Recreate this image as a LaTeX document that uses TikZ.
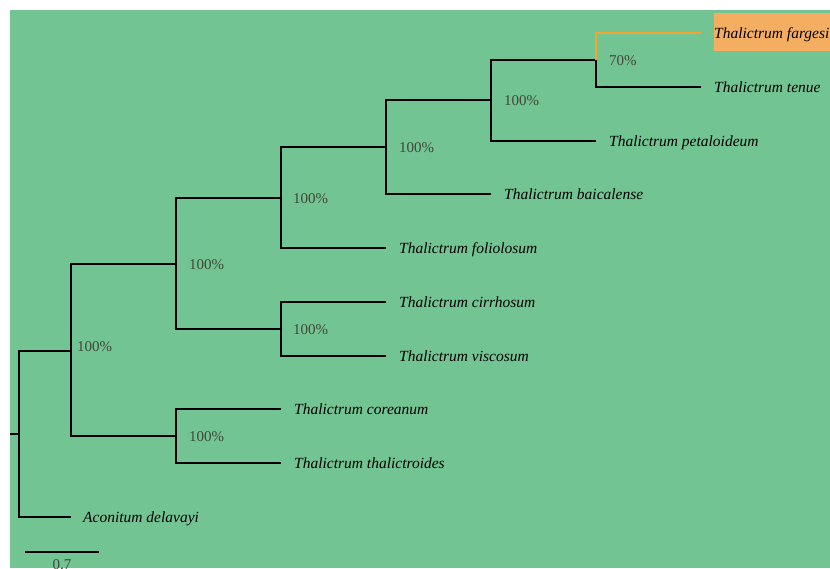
\documentclass[tikz,border=0pt]{standalone}
\usepackage{fontspec}
\setmainfont{Liberation Serif}
\usepackage{xcolor}
\usetikzlibrary{positioning}
\definecolor{treegreen}{HTML}{72C493}
\definecolor{hilite}{HTML}{F4AE62}
\definecolor{hiliteline}{HTML}{F2A62C}
\definecolor{bootgray}{HTML}{42463A}

\begin{document}
\begin{tikzpicture}[
  x=1pt, y=-1pt,
  branch/.style={line width=1.4pt, black},
  taxon/.style={font=\fontsize{15.5}{17}\selectfont\itshape, inner sep=0pt, text height=11pt, text depth=0pt},
  support/.style={font=\fontsize{15}{17}\selectfont, text=bootgray, inner sep=0pt, text height=11pt, text depth=0pt}
]
\useasboundingbox (0,0) rectangle (830,568);
\fill[treegreen] (10,10) rectangle (830,568);
\fill[hilite] (714,13) rectangle (830,51);

% internal nodes
\coordinate (stem) at (10,434);
\coordinate (root) at (19,434);
\coordinate (nA) at (71,351);
\coordinate (nB) at (176,264);
\coordinate (nC) at (176,436);
\coordinate (nD) at (281,198);
\coordinate (nE) at (281,329);
\coordinate (nF) at (386,147);
\coordinate (nG) at (491,100);
\coordinate (nH) at (596,60);

% tips
\coordinate (fargesii) at (701,33);
\coordinate (tenue) at (701,87);
\coordinate (petaloideum) at (596,141);
\coordinate (baicalense) at (491,194);
\coordinate (foliolosum) at (386,248);
\coordinate (cirrhosum) at (386,302);
\coordinate (viscosum) at (386,356);
\coordinate (coreanum) at (281,409);
\coordinate (thalictroides) at (281,463);
\coordinate (delavayi) at (71,517);

% branches
\draw[branch] (stem) -- (root);
\draw[branch] (root) |- (nA);
\draw[branch] (root) |- (delavayi);
\draw[branch] (nA) |- (nB);
\draw[branch] (nA) |- (nC);
\draw[branch] (nC) |- (coreanum);
\draw[branch] (nC) |- (thalictroides);
\draw[branch] (nB) |- (nD);
\draw[branch] (nB) |- (nE);
\draw[branch] (nE) |- (cirrhosum);
\draw[branch] (nE) |- (viscosum);
\draw[branch] (nD) |- (nF);
\draw[branch] (nD) |- (foliolosum);
\draw[branch] (nF) |- (nG);
\draw[branch] (nF) |- (baicalense);
\draw[branch] (nG) |- (nH);
\draw[branch] (nG) |- (petaloideum);
\draw[branch] (nH) |- (tenue);
\draw[line width=1.2pt, hiliteline] (nH) |- (fargesii);

% taxon labels
\node[taxon, right=13pt of fargesii] (lfargesii) {Thalictrum fargesii};
\node[taxon, right=13pt of tenue] (ltenue) {Thalictrum tenue};
\node[taxon, right=13pt of petaloideum] (lpetaloideum) {Thalictrum petaloideum};
\node[taxon, right=13pt of baicalense] (lbaicalense) {Thalictrum baicalense};
\node[taxon, right=13pt of foliolosum] (lfoliolosum) {Thalictrum foliolosum};
\node[taxon, right=13pt of cirrhosum] (lcirrhosum) {Thalictrum cirrhosum};
\node[taxon, right=13pt of viscosum] (lviscosum) {Thalictrum viscosum};
\node[taxon, right=13pt of coreanum] (lcoreanum) {Thalictrum coreanum};
\node[taxon, right=13pt of thalictroides] (lthalictroides) {Thalictrum thalictroides};
\node[taxon, right=12pt of delavayi] (ldelavayi) {Aconitum delavayi};

% support values
\node[support, right=6pt of nA, yshift=5pt] (sA) {100\%};
\node[support, right=13pt of nB] (sB) {100\%};
\node[support, right=13pt of nC] (sC) {100\%};
\node[support, right=12pt of nD] (sD) {100\%};
\node[support, right=12pt of nE] (sE) {100\%};
\node[support, right=13pt of nF] (sF) {100\%};
\node[support, right=13pt of nG] (sG) {100\%};
\node[support, right=13pt of nH] (sH) {70\%};

% scale bar
\coordinate (barL) at (25,552);
\coordinate (barR) at (99,552);
\draw[branch] (barL) -- (barR);
\node[support, below=6pt of barL, xshift=37pt, anchor=north] (barlabel) {0.7};
\end{tikzpicture}
\end{document}
